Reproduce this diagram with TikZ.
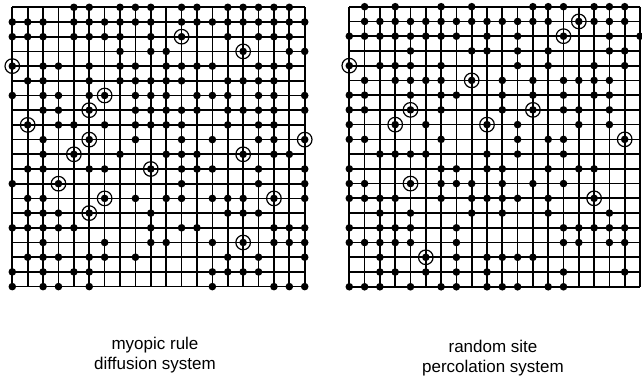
\documentclass[tikz,border=0pt]{standalone}
\usepackage{fontspec}
\setmainfont{Liberation Sans}

\begin{document}
\begin{tikzpicture}[x=1pt, y=-1pt,
  gridline/.style={line width=1.7pt},
  site/.style={fill=black},
  ring/.style={draw, line width=1.2pt},
  caption/.style={align=center, font=\fontsize{17}{20}\selectfont},
]
\useasboundingbox (0,0) rectangle (642,381);

% myopic rule lattice
\begin{scope}[shift={(12.3,7.3)}, x=15.39pt, y=-14.7pt]
  \foreach \i in {0,...,19} {
    \draw[gridline] (\i,0) -- (\i,19);
    \draw[gridline] (0,\i) -- (19,\i);
  }
  \foreach \r/\cols in {
      0/{4,5,7,8,9,11,12,14,15,16,17,18},
      1/{0,1,2,4,5,6,7,8,9,11,12,13,14,15,16,17,18,19},
      2/{0,1,2,4,5,6,7,9,14,16,17,18},
      3/{7,9,10,18,19},
      4/{2,3,5,7,8,10,11,12,13,16,17,18},
      5/{1,2,5,7,8,9,10,11,14,15,16,17},
      6/{0,2,3,5,8,9,10,12,13,14,16,17,19},
      7/{2,3,8,9,10,11,12,14,15,16,17,19},
      8/{3,4,6,8,9,10,11,14,16,17},
      9/{2,8,11,13,16,17},
      10/{2,7,10,11,12,17,18},
      11/{1,2,5,6,11,12,13,16,19},
      12/{0,11,16,19},
      13/{1,2,8,10,11,13,14,15,19},
      14/{1,2,3,9,14,15,16},
      15/{0,1,2,3,4,9,11,12,17,18,19},
      16/{2,6,9,10,13,17,18,19},
      17/{1,2,3,5,6,8,14,16,19},
      18/{0,2,4,5,13,14,15,16},
      19/{0,2,3,5,13,17,18,19}}
    \foreach \c in \cols \fill[site] (\c,\r) circle[radius=3.8pt];
  % occupied sites that are circled
  \foreach \c/\r in {11/2,15/3,0/4,6/6,5/7,1/8,5/9,19/9,4/10,15/10,
                     9/11,3/12,6/13,17/13,5/14,15/16} {
    \fill[site] (\c,\r) circle[radius=3.8pt];
    \draw[ring] (\c,\r) circle[radius=7.3pt];
  }
\end{scope}

% random site lattice
\begin{scope}[shift={(349.3,6.7)}, x=15.3pt, y=-14.74pt]
  \foreach \i in {0,...,19} {
    \draw[gridline] (\i,0) -- (\i,19);
    \draw[gridline] (0,\i) -- (19,\i);
  }
  \foreach \r/\cols in {
      0/{1,3,6,8,12,13,14,16,17,18},
      1/{1,2,3,4,5,6,7,8,9,10,11,12,13,16,17,18},
      2/{0,1,2,3,4,5,6,7,9,11,17,19},
      3/{4,8,9,11,13,17,18},
      4/{2,3,4,6,11,13,16,18},
      5/{1,3,4,5,6,10,12,14,15,16,17},
      6/{0,1,4,6,7,10,12,14,16,17},
      7/{0,1,6,10,14,15,17},
      8/{0,5,11,15,17},
      9/{0,1,6,11,13,14},
      10/{2,3,4,5,9,11,14},
      11/{0,6,7,9,10,13,15,16},
      12/{0,1,6,7,8,10,12,14},
      13/{0,1,2,3,6,8,9,10,11,13},
      14/{2,4,8,10,13,17},
      15/{0,2,3,4,7,14,15,16,17,18},
      16/{0,1,2,3,4,7,14,15,17,18},
      17/{2,7,9,10,11,12},
      18/{2,3,5,7,9,14,18},
      19/{0,1,2,4,6,7,9,10,11,13,14}}
    \foreach \c in \cols \fill[site] (\c,\r) circle[radius=3.8pt];
  \foreach \c/\r in {15/1,14/2,0/4,8/5,4/7,12/7,3/8,9/8,18/9,4/12,
                     16/13,5/17} {
    \fill[site] (\c,\r) circle[radius=3.8pt];
    \draw[ring] (\c,\r) circle[radius=7.3pt];
  }
\end{scope}

\node[caption] (leftcap)  at (155,355) {myopic rule\\diffusion system};
\node[caption] (rightcap) at (493,358) {random site\\percolation system};
\end{tikzpicture}
\end{document}
